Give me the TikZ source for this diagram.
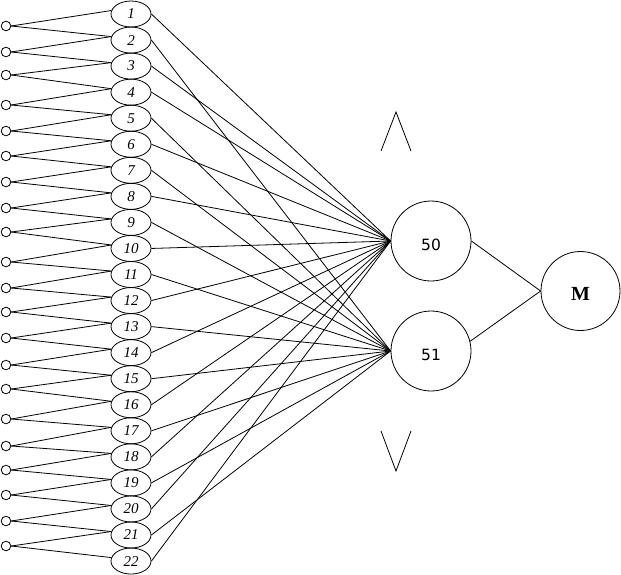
\documentclass[tikz,border=0pt]{standalone}
\usepackage{fontspec}
\setmainfont{Liberation Serif}
\newfontfamily\dejavu{DejaVu Sans}
\usetikzlibrary{shapes.geometric}
\begin{document}
\begin{tikzpicture}[x=1pt,y=-1pt,line width=0.8pt,
  inbox/.style={draw,ellipse,minimum width=40pt,minimum height=26pt,inner sep=0pt,font=\fontsize{15}{15}\selectfont\itshape},
  src/.style={draw,circle,minimum size=9.6pt,inner sep=0pt},
  hid/.style={draw,circle,minimum size=80pt,inner sep=0pt,font=\dejavu\fontsize{15.5}{15.5}\selectfont},
  mnode/.style={draw,circle,minimum size=79pt,inner sep=0pt,font=\fontsize{20}{20}\selectfont\bfseries},
  conn/.style={draw,line width=0.8pt}]
\useasboundingbox (0,0) rectangle (621,574);
% input ellipses
\foreach \i in {1,...,22} {
  \node[inbox] (e\i) at (131,{14+(\i-1)*26.05}) {\i};
}
% source circles
\foreach \y [count=\k] in {26,52,75,105,131,156,182,208,232,262,288,312,338,365,389,419,446,470,495,521,546} {
  \node[src] (s\k) at (6,\y) {};
}
\foreach \k in {1,...,21} {
  \pgfmathtruncatemacro\nx{\k+1}
  \draw[conn] (s\k.east) -- (e\k.170);
  \draw[conn] (s\k.east) -- (e\nx.170);
}
% hidden nodes
\node[hid] (h50) at (431,241) {\raisebox{-9.6pt}[0pt][0pt]{50}};
\node[hid] (h51) at (431,351) {\raisebox{-9.6pt}[0pt][0pt]{51}};
\node[mnode] (m) at (580.5,291) {\raisebox{-9.6pt}[0pt][0pt]{M}};
\foreach \i in {1,3,4,6,8,10,12,14,16,18,20,22} {
  \draw[conn] (e\i.east) -- (h50.west);
}
\foreach \i in {2,5,7,9,11,13,15,17,19,21} {
  \draw[conn] (e\i.east) -- (h51.west);
}
\draw[conn] (h50.east) -- (m.west);
\draw[conn] (h51.14) -- (m.west);
% chevrons
\coordinate (up1) at (381,151);
\coordinate (up2) at (396,112);
\coordinate (up3) at (411,151);
\coordinate (dn1) at (381,431);
\coordinate (dn2) at (396,471);
\coordinate (dn3) at (411,431);
\draw[conn] (up1) -- (up2) -- (up3);
\draw[conn] (dn1) -- (dn2) -- (dn3);
\end{tikzpicture}
\end{document}
